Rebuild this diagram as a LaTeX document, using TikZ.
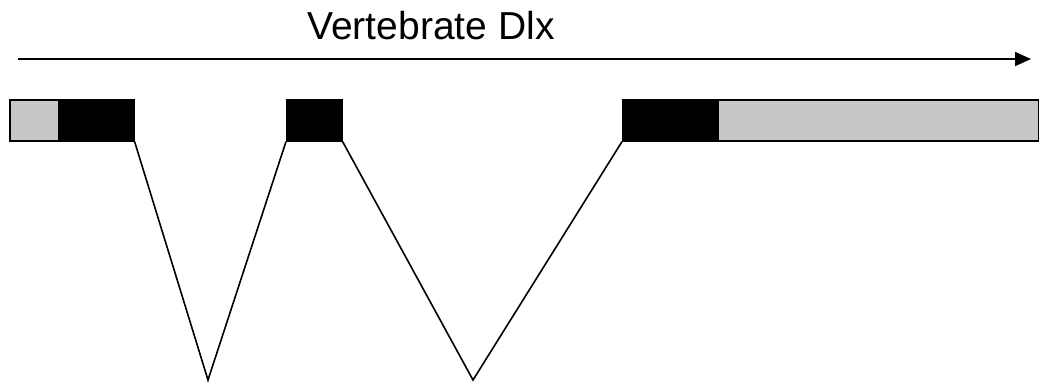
\documentclass[tikz,border=0pt]{standalone}
\usepackage{fontspec}
\setmainfont{Liberation Sans}
\usetikzlibrary{arrows.meta}
\begin{document}
\begin{tikzpicture}[x=1pt,y=-1pt,
  utr/.style={draw=black,line width=1.6pt,fill=black!22,inner sep=0pt,minimum height=41pt,anchor=north west},
  cds/.style={draw=black,line width=1.6pt,fill=black,inner sep=0pt,minimum height=41pt,anchor=north west},
  intron/.style={draw=black,line width=1.6pt,line join=miter},
  axis/.style={draw=black,line width=1.8pt,-{Triangle[length=16pt,width=14pt]}}]
\useasboundingbox (0,0) rectangle (1039,384);
% title and direction of transcription
\node[font=\fontsize{39pt}{46pt}\selectfont,anchor=base,inner sep=0pt] (title) at (431,39) {Vertebrate Dlx};
\coordinate (arrS) at (18,59);
\coordinate (arrE) at (1031,59);
\draw[axis] (arrS) -- (arrE);
% exons
\node[utr,minimum width=49pt] (u5) at (9,99) {};
\node[cds,minimum width=75pt] (e1) at (58,99) {};
\node[cds,minimum width=55pt] (e2) at (286,99) {};
\node[cds,minimum width=95pt] (e3) at (622,99) {};
\node[utr,minimum width=321pt] (u3) at (717,99) {};
% introns
\coordinate (i1) at (208,380);
\coordinate (i2) at (473,380);
\draw[intron] (e1.south east) -- (i1) -- (e2.south west);
\draw[intron] (e2.south east) -- (i2) -- (e3.south west);
\end{tikzpicture}
\end{document}
